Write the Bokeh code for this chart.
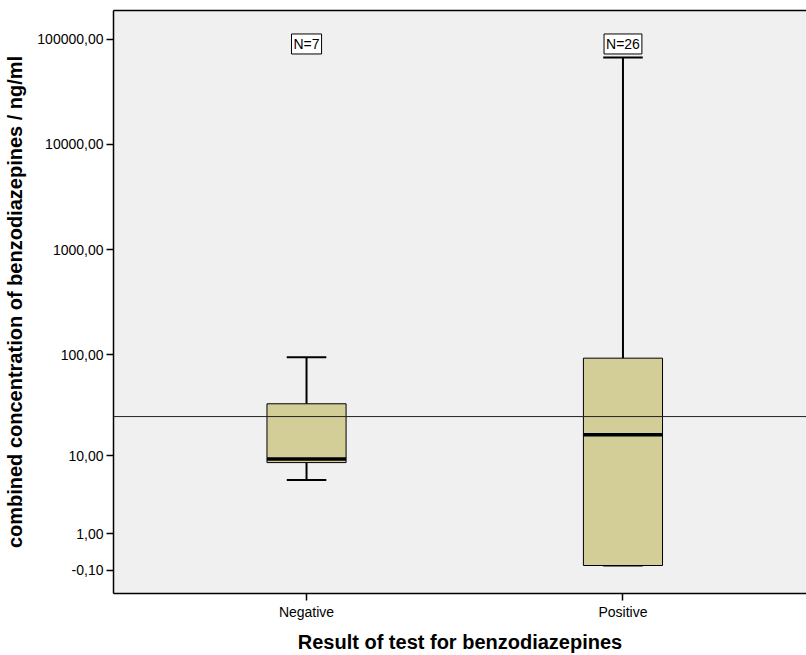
import numpy as np
from bokeh.plotting import figure
from bokeh.models import (FixedTicker, CustomJSTickFormatter, Span, Label,
                          Range1d, ColumnDataSource, LinearAxis)
from bokeh.embed import file_html
from bokeh.resources import INLINE

# Boxplot summary per test result (ng/ml)
categories = ["Negative", "Positive"]
counts = [7, 26]
whisker_low = [5.5, 0.0]
q1 = [8.5, 0.0]
median = [9.3, 16.5]
q3 = [33.4, 92.3]
whisker_high = [94.3, 67000.0]
reference_level = 25.0

# Y axis ticks (shown in original units)
tick_values = [-0.1, 1, 10, 100, 1000, 10000, 100000]
tick_labels = ["-0,10", "1,00", "10,00", "100,00", "1000,00", "10000,00", "100000,00"]


def tr(v):
    """log10(x + 1) scale used for the concentration axis."""
    return np.log10(np.asarray(v, dtype=float) + 1.0)


xs = np.arange(1, len(categories) + 1, dtype=float)
box_half = 0.125
cap_half = 0.0625

src = ColumnDataSource(dict(
    x=xs,
    left=xs - box_half, right=xs + box_half,
    cap_l=xs - cap_half, cap_r=xs + cap_half,
    lo=tr(whisker_low), q1=tr(q1), med=tr(median), q3=tr(q3), hi=tr(whisker_high),
))

p = figure(width=806, height=655, output_backend="svg", toolbar_location=None,
           x_range=Range1d(0.39, 2.58), y_range=Range1d(-0.266, 5.273),
           min_border_left=113, min_border_right=0, min_border_top=10,
           min_border_bottom=62)

p.background_fill_color = "#F0F0F0"
p.border_fill_color = "white"
p.outline_line_color = None
p.xgrid.visible = False
p.ygrid.visible = False

# whiskers and caps
p.segment(x0="x", y0="q3", x1="x", y1="hi", source=src, line_color="black", line_width=2)
p.segment(x0="x", y0="q1", x1="x", y1="lo", source=src, line_color="black", line_width=2)
p.segment(x0="cap_l", y0="hi", x1="cap_r", y1="hi", source=src, line_color="black", line_width=2)
p.segment(x0="cap_l", y0="lo", x1="cap_r", y1="lo", source=src, line_color="black", line_width=2)

# boxes and medians
p.quad(left="left", right="right", bottom="q1", top="q3", source=src,
       fill_color="#D3CE97", line_color="black", line_width=1)
p.segment(x0="left", y0="med", x1="right", y1="med", source=src,
          line_color="black", line_width=3.5)

# reference line
p.add_layout(Span(location=float(tr(reference_level)), dimension="width",
                  line_color="#222222", line_width=1))

# N labels
n_label_y = 4.955
for xi, n in zip(xs, counts):
    p.add_layout(Label(x=float(xi), y=n_label_y, text=f"N={n}",
                       text_align="center", text_baseline="middle",
                       text_font="Liberation Sans", text_font_size="14px",
                       text_color="black", background_fill_color="white",
                       border_line_color="black", border_line_width=1,
                       padding=2))

# axes
yax = p.left[0]
xax = p.below[0]

yax.ticker = FixedTicker(ticks=tr(tick_values).tolist(), minor_ticks=[])
yax.formatter = CustomJSTickFormatter(
    args=dict(pos=tr(tick_values).tolist(), labels=tick_labels),
    code="""
        for (let i = 0; i < pos.length; i++) {
            if (Math.abs(pos[i] - tick) < 1e-6) { return labels[i]; }
        }
        return "";
    """)
yax.axis_label = "combined concentration of benzodiazepines / ng/ml"

xax.ticker = FixedTicker(ticks=xs.tolist(), minor_ticks=[])
xax.formatter = CustomJSTickFormatter(
    args=dict(names=categories),
    code="const i = Math.round(tick) - 1; return (i >= 0 && i < names.length) ? names[i] : '';")
xax.axis_label = "Result of test for benzodiazepines"

for ax in (xax, yax):
    ax.axis_line_color = "black"
    ax.axis_line_width = 1.5
    ax.major_tick_line_color = "black"
    ax.major_tick_line_width = 1.5
    ax.major_tick_out = 7
    ax.major_tick_in = 0
    ax.minor_tick_line_color = None
    ax.major_label_text_font = "Liberation Sans"
    ax.major_label_text_font_size = "14px"
    ax.major_label_text_color = "black"
    ax.axis_label_text_font = "Liberation Sans"
    ax.axis_label_text_font_size = "20px"
    ax.axis_label_text_font_style = "bold"
    ax.axis_label_text_color = "black"

yax.major_label_standoff = 3
yax.axis_label_standoff = 8
xax.major_label_standoff = 3
xax.axis_label_standoff = 8

# top frame edge: a bare axis line
top = LinearAxis(ticker=FixedTicker(ticks=[]), major_tick_out=0, major_tick_in=0,
                 major_label_standoff=0, major_label_text_font_size="0px",
                 minor_tick_line_color=None, axis_line_color="black",
                 axis_line_width=1.5)
p.add_layout(top, "above")

open("out.html", "w").write(file_html(p, INLINE))
